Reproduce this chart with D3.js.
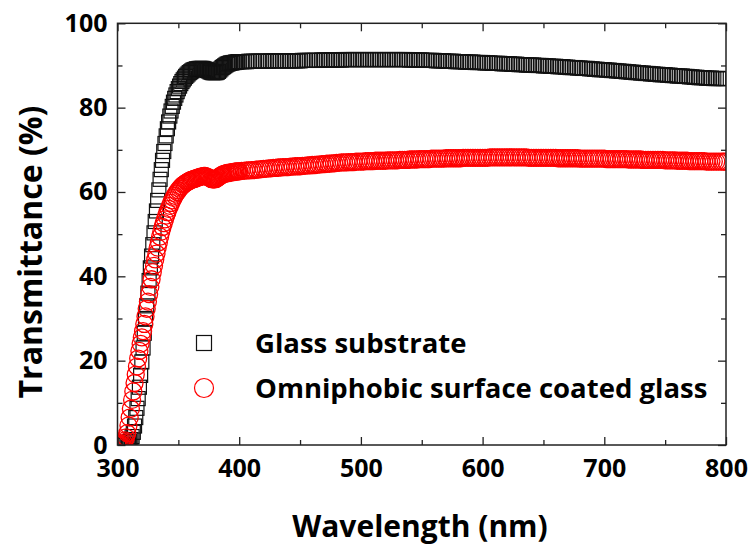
<!DOCTYPE html>
<html>
<head>
<meta charset="utf-8">
<script src="https://cdn.jsdelivr.net/npm/d3@7"></script>
<style>
  html, body { margin: 0; padding: 0; background: #fff; }
  svg { display: block; }
  text { font-family: "Open Sans", Lato, sans-serif; font-weight: bold; fill: #000; }
</style>
</head>
<body>
<svg id="chart" width="753" height="547"></svg>
<script>
// ---- data ----
// wavelengths: 1 nm steps 300-399, 2 nm steps 400-800
const wavelengths = d3.range(300, 400, 1).concat(d3.range(400, 801, 2));

const glassSubstrate = [
  0,0,0,0,0,0,0,0,0.2,0.5,
  0.8,1.3,2,3,4.5,6.5,8.7,11,13.7,16.5,
  19.7,23,26.5,30,33,36,39,42,44.8,47.5,
  50.3,53,55.5,58,60.5,63,65.3,67.5,69.6,71.5,
  73.3,75,76.6,78,79.2,80.3,81.3,82.2,83,83.8,
  84.5,85.1,85.7,86.2,86.6,87,87.4,87.7,88,88.3,
  88.5,88.7,88.9,89,89.1,89.2,89.2,89.3,89.3,89.3,
  89.3,89.2,89.1,89,88.8,88.7,88.5,88.4,88.3,88.3,
  88.3,88.3,88.4,88.6,88.9,89.2,89.5,89.7,89.9,90.1,
  90.3,90.4,90.5,90.6,90.6,90.7,90.7,90.8,90.8,90.9,
  // 400-798 step 2
  90.9,90.9,90.9,90.9,91.0,91.0,91.0,91.0,91.0,91.0,
  91.0,91.0,91.0,91.1,91.1,91.1,91.1,91.1,91.1,91.1,
  91.1,91.1,91.1,91.1,91.1,91.1,91.2,91.2,91.2,91.2,
  91.2,91.2,91.2,91.2,91.3,91.3,91.3,91.3,91.3,91.3,
  91.3,91.3,91.3,91.4,91.4,91.4,91.4,91.4,91.4,91.4,
  91.4,91.4,91.4,91.4,91.4,91.4,91.4,91.4,91.4,91.4,
  91.4,91.4,91.4,91.4,91.4,91.4,91.4,91.4,91.4,91.4,
  91.3,91.3,91.3,91.3,91.3,91.3,91.2,91.2,91.2,91.2,
  91.2,91.1,91.1,91.1,91.1,91.0,91.0,91.0,91.0,90.9,
  90.9,90.9,90.9,90.8,90.8,90.8,90.8,90.7,90.7,90.7,
  90.7,90.6,90.6,90.6,90.5,90.5,90.5,90.5,90.4,90.4,
  90.4,90.4,90.3,90.3,90.3,90.2,90.2,90.2,90.1,90.1,
  90.1,90.1,90.0,90.0,90.0,89.9,89.9,89.9,89.8,89.8,
  89.8,89.7,89.7,89.7,89.6,89.6,89.5,89.5,89.5,89.4,
  89.4,89.3,89.3,89.3,89.2,89.2,89.1,89.1,89.0,89.0,
  89.0,88.9,88.9,88.8,88.8,88.7,88.7,88.6,88.6,88.5,
  88.5,88.4,88.4,88.3,88.3,88.2,88.2,88.1,88.1,88.0,
  88.0,87.9,87.9,87.8,87.8,87.8,87.7,87.7,87.6,87.6,
  87.5,87.5,87.5,87.4,87.4,87.3,87.3,87.2,87.2,87.1,
  87.1,87.1,87.0,87.0,87.0,86.9,86.9,86.9,86.9,86.9,
  86.9
];

const coatedGlass = [
  0,0,0,0.1,0.3,0.6,1.1,1.8,2.8,4.6,
  6.5,8.6,10.7,12.7,14.7,16.7,18.6,20.5,22.3,24,
  25.5,27,28.7,30.5,32.3,34,35.8,37.5,39.3,41,
  42.5,44,45.4,46.8,48.1,49.4,50.6,51.7,52.6,53.5,
  54.4,55.2,56,56.7,57.4,58,58.6,59.1,59.6,60,
  60.4,60.8,61.1,61.4,61.7,61.9,62.1,62.3,62.5,62.6,
  62.8,62.9,63,63.1,63.2,63.3,63.4,63.5,63.6,63.7,
  63.7,63.8,63.8,63.7,63.6,63.4,63.3,63.1,63,63,
  63,63.1,63.3,63.5,63.7,63.9,64.1,64.2,64.3,64.4,
  64.5,64.5,64.6,64.6,64.7,64.7,64.8,64.8,64.9,64.9,
  // 400-798 step 2
  64.9,65.0,65.0,65.1,65.1,65.2,65.2,65.3,65.3,65.4,
  65.5,65.5,65.6,65.6,65.7,65.7,65.8,65.8,65.9,65.9,
  65.9,66.0,66.0,66.1,66.1,66.1,66.2,66.2,66.3,66.3,
  66.4,66.4,66.5,66.5,66.6,66.6,66.7,66.7,66.8,66.8,
  66.9,66.9,67.0,67.0,67.0,67.1,67.1,67.1,67.2,67.2,
  67.2,67.2,67.3,67.3,67.3,67.3,67.4,67.4,67.4,67.4,
  67.4,67.5,67.5,67.5,67.5,67.5,67.6,67.6,67.6,67.6,
  67.7,67.7,67.7,67.7,67.8,67.8,67.8,67.8,67.8,67.9,
  67.9,67.9,67.9,67.9,67.9,68.0,68.0,68.0,68.0,68.0,
  68.0,68.0,68.1,68.1,68.1,68.1,68.1,68.1,68.1,68.1,
  68.1,68.1,68.1,68.2,68.2,68.2,68.2,68.2,68.2,68.2,
  68.2,68.2,68.2,68.2,68.2,68.2,68.2,68.2,68.2,68.1,
  68.1,68.1,68.1,68.1,68.1,68.1,68.1,68.1,68.1,68.1,
  68.1,68.0,68.0,68.0,68.0,68.0,68.0,68.0,68.0,68.0,
  67.9,67.9,67.9,67.9,67.9,67.9,67.9,67.9,67.9,67.9,
  67.9,67.8,67.8,67.8,67.8,67.8,67.8,67.8,67.8,67.8,
  67.7,67.7,67.7,67.7,67.7,67.7,67.6,67.6,67.6,67.6,
  67.6,67.6,67.6,67.6,67.6,67.5,67.5,67.5,67.5,67.5,
  67.4,67.4,67.4,67.4,67.4,67.3,67.3,67.3,67.3,67.3,
  67.3,67.3,67.2,67.2,67.2,67.2,67.2,67.2,67.2,67.2,
  67.2
];

const xMajorTicks = [300, 400, 500, 600, 700, 800];
const xMinorTicks = [350, 450, 550, 650, 750];
const yMajorTicks = [0, 20, 40, 60, 80, 100];
const yMinorTicks = [10, 30, 50, 70, 90];
const seriesNames = ["Glass substrate", "Omniphobic surface coated glass"];
const xTitle = "Wavelength (nm)";
const yTitle = "Transmittance (%)";

// ---- layout ----
const svg = d3.select("#chart");
const L = 117.5, R = 726, T = 23.3, B = 445;
const x = d3.scaleLinear().domain([300, 800]).range([L, R]);
const y = d3.scaleLinear().domain([0, 100]).range([B, T]);

const pts = (vals) => wavelengths.map((w, i) => ({ w, v: vals[i] }));

svg.append("defs").append("clipPath").attr("id", "plotclip")
  .append("rect").attr("x", L).attr("y", T).attr("width", R - L).attr("height", B - T);

const plot = svg.append("g").attr("clip-path", "url(#plotclip)");

// Glass substrate: open squares
const sq = 14;
plot.append("g").selectAll("rect")
  .data(pts(glassSubstrate)).join("rect")
  .attr("x", d => x(d.w) - sq / 2)
  .attr("y", d => y(d.v) - sq / 2)
  .attr("width", sq).attr("height", sq)
  .attr("fill", "none").attr("stroke", "#111").attr("stroke-width", 1.2);

// Coated glass: open circles
plot.append("g").selectAll("circle")
  .data(pts(coatedGlass)).join("circle")
  .attr("cx", d => x(d.w))
  .attr("cy", d => y(d.v))
  .attr("r", 8.5)
  .attr("fill", "none").attr("stroke", "#ff0000").attr("stroke-width", 1.3);

// ---- axes (inward ticks on all four sides) ----
function styleAxis(g) {
  g.select(".domain").remove();
  g.selectAll(".tick line").attr("stroke", "#222").attr("stroke-width", 1.3);
  g.selectAll("text").attr("font-size", 25).attr("font-weight", "bold")
    .attr("font-family", "'Open Sans', Lato, sans-serif").attr("fill", "#000");
}

svg.append("g").attr("transform", `translate(0,${B})`)
  .call(d3.axisBottom(x).tickValues(xMajorTicks).tickSize(-8).tickPadding(14).tickFormat(d3.format("d")))
  .call(styleAxis);
svg.append("g").attr("transform", `translate(0,${B})`)
  .call(d3.axisBottom(x).tickValues(xMinorTicks).tickSize(-5).tickFormat(""))
  .call(styleAxis);
svg.append("g").attr("transform", `translate(0,${T})`)
  .call(d3.axisTop(x).tickValues(xMajorTicks).tickSize(-8).tickFormat(""))
  .call(styleAxis);
svg.append("g").attr("transform", `translate(0,${T})`)
  .call(d3.axisTop(x).tickValues(xMinorTicks).tickSize(-5).tickFormat(""))
  .call(styleAxis);

svg.append("g").attr("transform", `translate(${L},0)`)
  .call(d3.axisLeft(y).tickValues(yMajorTicks).tickSize(-8).tickPadding(10).tickFormat(d3.format("d")))
  .call(styleAxis);
svg.append("g").attr("transform", `translate(${L},0)`)
  .call(d3.axisLeft(y).tickValues(yMinorTicks).tickSize(-5).tickFormat(""))
  .call(styleAxis);
svg.append("g").attr("transform", `translate(${R},0)`)
  .call(d3.axisRight(y).tickValues(yMajorTicks).tickSize(-8).tickFormat(""))
  .call(styleAxis);
svg.append("g").attr("transform", `translate(${R},0)`)
  .call(d3.axisRight(y).tickValues(yMinorTicks).tickSize(-5).tickFormat(""))
  .call(styleAxis);

// frame
svg.append("rect").attr("x", L).attr("y", T).attr("width", R - L).attr("height", B - T)
  .attr("fill", "none").attr("stroke", "#222").attr("stroke-width", 1.5);

// ---- titles ----
svg.append("text").attr("x", 420).attr("y", 537)
  .attr("text-anchor", "middle").attr("font-size", 30).text(xTitle);
svg.append("text").attr("transform", "translate(42,252) rotate(-90)")
  .attr("text-anchor", "middle").attr("font-size", 32).text(yTitle);

// ---- legend ----
const legend = svg.append("g");
legend.append("rect").attr("x", 204 - 7.5).attr("y", 343 - 7.5).attr("width", 15).attr("height", 15)
  .attr("fill", "none").attr("stroke", "#111").attr("stroke-width", 1.2);
legend.append("circle").attr("cx", 204).attr("cy", 388).attr("r", 9.5)
  .attr("fill", "none").attr("stroke", "#ff0000").attr("stroke-width", 1.2);
legend.append("text").attr("x", 255).attr("y", 353).attr("font-size", 27.5).text(seriesNames[0]);
legend.append("text").attr("x", 255).attr("y", 398).attr("font-size", 27.5).text(seriesNames[1]);
</script>
</body>
</html>
